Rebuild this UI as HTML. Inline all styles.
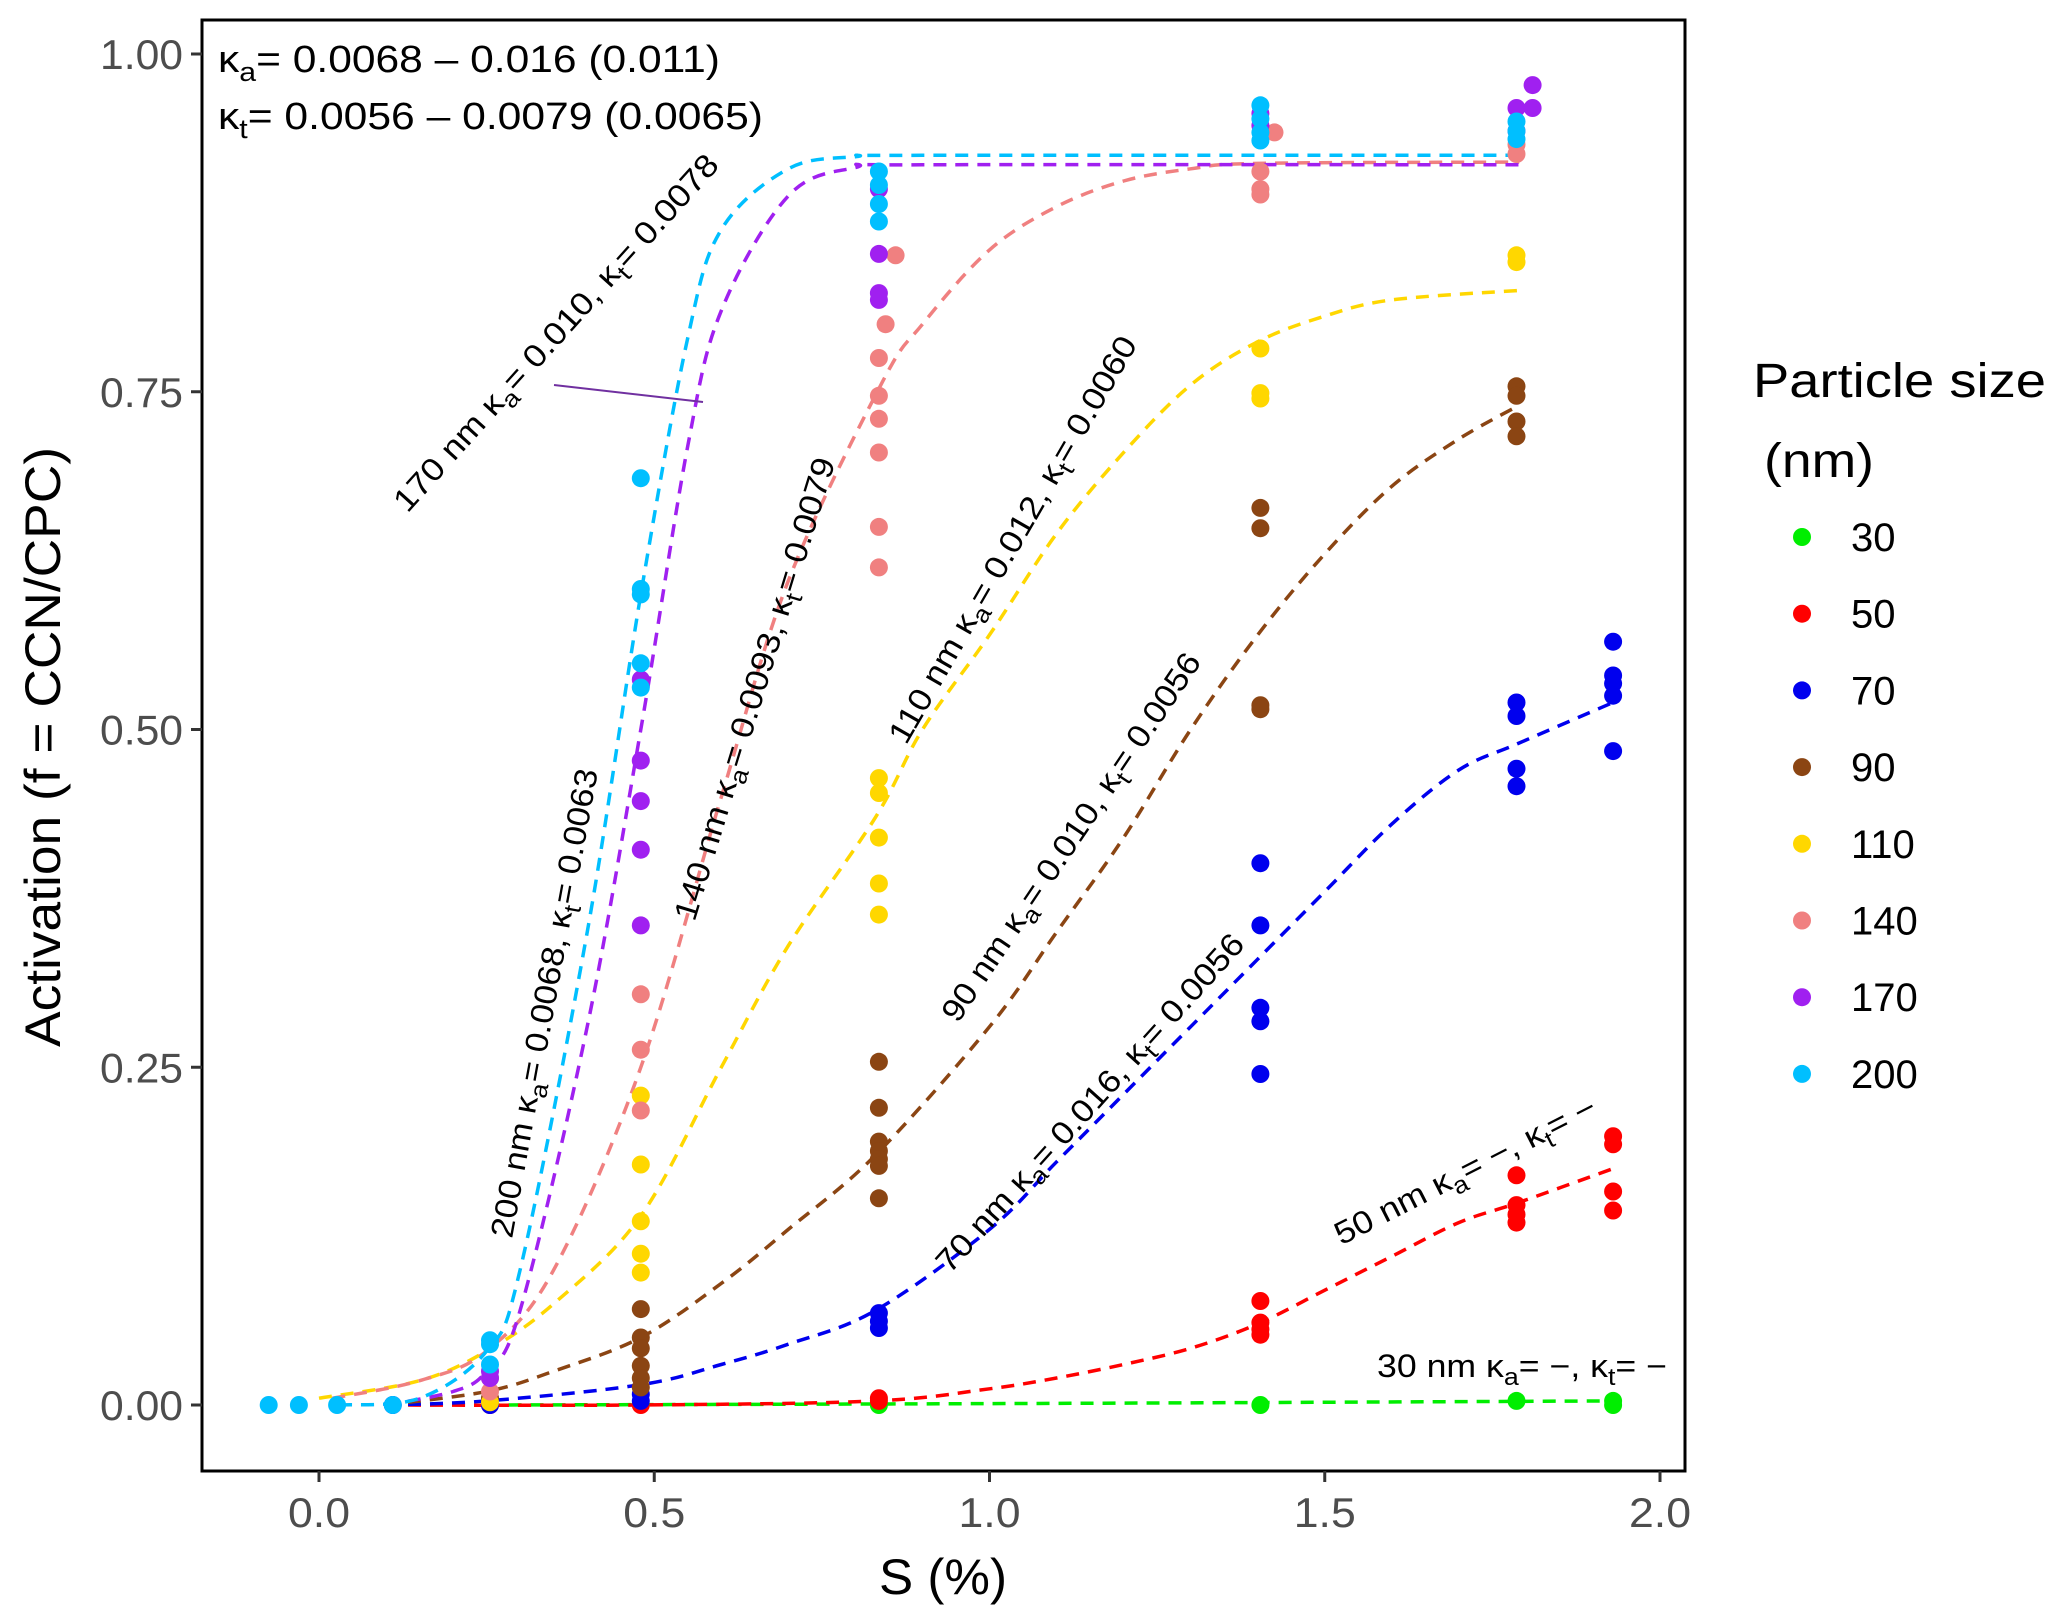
<!DOCTYPE html>
<html><head><meta charset="utf-8"><style>
html,body{margin:0;padding:0;background:#fff}
svg{display:block;font-family:"Liberation Sans",sans-serif}
</style></head><body>
<svg id="chart" width="2067" height="1624" viewBox="0 0 2067 1624" xmlns="http://www.w3.org/2000/svg">
<rect x="0" y="0" width="2067" height="1624" fill="#fff"/>
<g id="curves"></g>
<g id="points"></g>
<rect x="202" y="20" width="1483" height="1451" fill="none" stroke="#000" stroke-width="3"/>
<g id="axes"></g>
<g id="annot" font-size="32" fill="#000"></g>
<g id="legend"></g>
</svg>
<script>
const sizes = [30, 50, 70, 90, 110, 140, 170, 200];
const colors = ["#00ee00", "#ff0000", "#0000ee", "#8b4513", "#ffd700", "#f08080", "#a020f0", "#00bfff"];
const xTicks = [0.0, 0.5, 1.0, 1.5, 2.0];
const xTickLabels = ["0.0", "0.5", "1.0", "1.5", "2.0"];
const yTicks = [0, 0.25, 0.5, 0.75, 1.0];
const yTickLabels = ["0.00", "0.25", "0.50", "0.75", "1.00"];

// measured points [S, activation] per size
const pts30 = [[0.835,0],[1.404,0],[1.786,0.003],[1.93,0.003],[1.93,0.0]];
const pts50 = [[0.255,0],[0.48,0],[0.835,0.005],[0.835,0.003],[1.404,0.077],[1.404,0.061],[1.404,0.056],[1.404,0.052],[1.786,0.17],[1.786,0.148],[1.786,0.141],[1.786,0.135],[1.93,0.199],[1.93,0.193],[1.93,0.158],[1.93,0.144]];
const pts70 = [[0.11,0],[0.255,0],[0.48,0.008],[0.48,0.003],[0.835,0.068],[0.835,0.062],[0.835,0.057],[1.404,0.401],[1.404,0.355],[1.404,0.294],[1.404,0.284],[1.404,0.245],[1.786,0.52],[1.786,0.51],[1.786,0.471],[1.786,0.458],[1.93,0.565],[1.93,0.54],[1.93,0.534],[1.93,0.525],[1.93,0.484]];
const pts90 = [[0.255,0.005],[0.48,0.071],[0.48,0.05],[0.48,0.042],[0.48,0.029],[0.48,0.02],[0.48,0.013],[0.835,0.254],[0.835,0.22],[0.835,0.195],[0.835,0.188],[0.835,0.182],[0.835,0.177],[0.835,0.153],[1.404,0.664],[1.404,0.649],[1.404,0.518],[1.404,0.515],[1.786,0.754],[1.786,0.747],[1.786,0.728],[1.786,0.717]];
const pts110 = [[0.255,0.002],[0.48,0.229],[0.48,0.178],[0.48,0.136],[0.48,0.112],[0.48,0.098],[0.835,0.464],[0.835,0.453],[0.835,0.42],[0.835,0.386],[0.835,0.363],[1.404,0.782],[1.404,0.749],[1.404,0.745],[1.786,0.851],[1.786,0.846]];
const pts140 = [[0.255,0.01],[0.255,0.02],[0.48,0.304],[0.48,0.263],[0.48,0.218],[0.835,0.775],[0.835,0.747],[0.835,0.73],[0.835,0.705],[0.835,0.65],[0.835,0.62],[0.845,0.8],[0.86,0.851],[1.425,0.942],[1.404,0.913],[1.404,0.9],[1.404,0.896],[1.786,0.926],[1.786,0.933]];
const pts170 = [[0.255,0.02],[0.255,0.025],[0.48,0.537],[0.48,0.477],[0.48,0.447],[0.48,0.411],[0.48,0.355],[0.835,0.9],[0.835,0.852],[0.835,0.823],[0.835,0.818],[1.404,0.956],[1.404,0.947],[1.81,0.977],[1.81,0.96],[1.786,0.96],[1.786,0.943]];
const pts200 = [[-0.075,0],[-0.03,0],[0.027,0],[0.11,0],[0.255,0.048],[0.255,0.045],[0.255,0.03],[0.48,0.686],[0.48,0.604],[0.48,0.6],[0.48,0.549],[0.48,0.531],[0.835,0.913],[0.835,0.903],[0.835,0.889],[0.835,0.876],[1.404,0.962],[1.404,0.952],[1.404,0.942],[1.404,0.936],[1.786,0.95],[1.786,0.943],[1.786,0.937]];
const allPts = [pts30, pts50, pts70, pts90, pts110, pts140, pts170, pts200];

// fitted curves [S, activation]
const fit30 = [[0.25,0],[1.0,0.001],[1.93,0.003]];
const fit50 = [[0.1,0],[0.48,0],[0.83,0.003],[1.0,0.012],[1.1,0.02],[1.2,0.03],[1.3,0.042],[1.4,0.06],[1.5,0.085],[1.6,0.11],[1.7,0.135],[1.79,0.15],[1.93,0.175]];
const fit70 = [[0.1,0],[0.25,0.003],[0.48,0.015],[0.6,0.03],[0.7,0.045],[0.83,0.07],[1.0,0.13],[1.1,0.18],[1.2,0.23],[1.3,0.28],[1.4,0.33],[1.5,0.38],[1.6,0.43],[1.7,0.47],[1.79,0.49],[1.93,0.52]];
const fit90 = [[0.1,0],[0.25,0.01],[0.35,0.025],[0.48,0.05],[0.6,0.09],[0.7,0.13],[0.83,0.185],[1.0,0.28],[1.1,0.35],[1.2,0.42],[1.3,0.5],[1.4,0.57],[1.5,0.63],[1.6,0.68],[1.7,0.715],[1.79,0.74]];
const fit110 = [[0.0,0.005],[0.15,0.018],[0.25,0.04],[0.35,0.075],[0.48,0.14],[0.6,0.25],[0.7,0.34],[0.83,0.435],[0.9,0.5],[1.0,0.57],[1.1,0.645],[1.2,0.705],[1.3,0.755],[1.4,0.787],[1.5,0.806],[1.6,0.818],[1.79,0.825]];
const fit140 = [[0.02,0.005],[0.15,0.018],[0.25,0.04],[0.35,0.1],[0.48,0.25],[0.6,0.45],[0.7,0.61],[0.84,0.757],[0.9,0.8],[1.0,0.855],[1.1,0.887],[1.2,0.906],[1.3,0.915],[1.4,0.919],[1.79,0.92]];
const fit170 = [[0.1,0],[0.2,0.01],[0.25,0.025],[0.3,0.07],[0.4,0.28],[0.48,0.5],[0.55,0.71],[0.6,0.81],[0.7,0.895],[0.8,0.916],[0.9,0.918],[1.79,0.918]];
const fit200 = [[0.03,0],[0.15,0.005],[0.25,0.04],[0.3,0.1],[0.4,0.35],[0.48,0.6],[0.55,0.79],[0.6,0.87],[0.7,0.915],[0.8,0.924],[0.9,0.925],[1.79,0.925]];
const allFits = [fit30, fit50, fit70, fit90, fit110, fit140, fit170, fit200];

const NS = "http://www.w3.org/2000/svg";
const X0 = 319, XS = 670.5, Y0 = 1405, YS = 1351;
function xs(v){ return X0 + v*XS; }
function ys(v){ return Y0 - v*YS; }
function mk(tag, attrs, parent){ const e=document.createElementNS(NS,tag); for(const k in attrs) e.setAttribute(k,attrs[k]); parent.appendChild(e); return e; }
function smoothPath(f){
  const P = f.map(p=>[xs(p[0]), ys(p[1])]);
  let d = "M"+P[0][0].toFixed(1)+","+P[0][1].toFixed(1);
  for(let i=0;i<P.length-1;i++){
    const p0=P[Math.max(0,i-1)], p1=P[i], p2=P[i+1], p3=P[Math.min(P.length-1,i+2)];
    const c1=[p1[0]+(p2[0]-p0[0])/6, p1[1]+(p2[1]-p0[1])/6];
    const c2=[p2[0]-(p3[0]-p1[0])/6, p2[1]-(p3[1]-p1[1])/6];
    d += " C"+c1[0].toFixed(1)+","+c1[1].toFixed(1)+" "+c2[0].toFixed(1)+","+c2[1].toFixed(1)+" "+p2[0].toFixed(1)+","+p2[1].toFixed(1);
  }
  return d;
}

const gc = document.getElementById("curves");
allFits.forEach((f,i)=>{
  const el = mk("path",{d:smoothPath(f),fill:"none",stroke:colors[i],"stroke-width":3.5,"stroke-dasharray":"13 9","stroke-linejoin":"round"},gc);
  
  
});
const gp = document.getElementById("points");
allPts.forEach((arr,i)=>{
  arr.forEach(p=>{
    const c = mk("circle",{cx:xs(p[0]).toFixed(1),cy:ys(p[1]).toFixed(1),r:9,fill:colors[i]},gp);
    
    
  });
});

const ga = document.getElementById("axes");
xTicks.forEach((t,i)=>{
  const l = mk("line",{x1:xs(t),x2:xs(t),y1:1471,y2:1482,stroke:"#333","stroke-width":3},ga);
  
  
  const tx = mk("text",{x:xs(t),y:1527,"text-anchor":"middle","font-size":42,fill:"#4d4d4d",textLength:62,lengthAdjust:"spacingAndGlyphs"},ga);
  tx.textContent = xTickLabels[i];
  
  
});
yTicks.forEach((t,i)=>{
  const l = mk("line",{x1:191,x2:202,y1:ys(t),y2:ys(t),stroke:"#333","stroke-width":3},ga);
  
  
  const tx = mk("text",{x:183,y:ys(t)+15,"text-anchor":"end","font-size":42,fill:"#4d4d4d",textLength:83,lengthAdjust:"spacingAndGlyphs"},ga);
  tx.textContent = yTickLabels[i];
  
  
});
const xt = mk("text",{x:943,y:1594,"text-anchor":"middle","font-size":50,fill:"#000",textLength:128,lengthAdjust:"spacingAndGlyphs"},ga);
xt.textContent = "S (%)";


const yt = mk("text",{x:0,y:0,"text-anchor":"middle","font-size":50,fill:"#000",transform:"translate(60,747) rotate(-90)",textLength:600,lengthAdjust:"spacingAndGlyphs"},ga);
yt.textContent = "Activation (f = CCN/CPC)";



// annotations
const gn = document.getElementById("annot");
function kText(parent, x, y, prefix, ka, kt, len, rot, name){
  const t = mk("text",{x:0,y:0,"text-anchor":"middle",transform:"translate("+x+","+y+") rotate("+rot+")",textLength:len,lengthAdjust:"spacingAndGlyphs"},parent);
  
  
  t.innerHTML = prefix+' κ<tspan dy="8" font-size="24">a</tspan><tspan dy="-8">= '+ka+', κ</tspan><tspan dy="8" font-size="24">t</tspan><tspan dy="-8">= '+kt+'</tspan>';
  return t;
}
kText(gn,564,340,"170 nm","0.010","0.0078",468,-48,"label-170nm");
kText(gn,555,1005,"200 nm","0.0068","0.0063",476,-79.6,"label-200nm");
kText(gn,765,692,"140 nm","0.0093","0.0079",482,-73,"label-140nm");
kText(gn,1022,545,"110 nm","0.012","0.0060",464,-60,"label-110nm");
kText(gn,1080,843,"90 nm","0.010","0.0056",437,-56,"label-90nm");
kText(gn,1098,1110,"70 nm","0.016","0.0056",443,-48,"label-70nm");
kText(gn,1470,1180,"50 nm","−","−",289,-27,"label-50nm");
kText(gn,1522,1377,"30 nm","−","−",290,0,"label-30nm");
const ln = mk("line",{x1:554,y1:385,x2:703,y2:402,stroke:"#7030a0","stroke-width":2},gn);


const s1 = mk("text",{x:218,y:72,"font-size":38,textLength:502,lengthAdjust:"spacingAndGlyphs"},gn);


s1.innerHTML = 'κ<tspan dy="9" font-size="27">a</tspan><tspan dy="-9">= 0.0068 – 0.016 (0.011)</tspan>';
const s2 = mk("text",{x:218,y:129,"font-size":38,textLength:545,lengthAdjust:"spacingAndGlyphs"},gn);


s2.innerHTML = 'κ<tspan dy="9" font-size="27">t</tspan><tspan dy="-9">= 0.0056 – 0.0079 (0.0065)</tspan>';

// legend
const gl = document.getElementById("legend");
const lt1 = mk("text",{x:1753,y:397,"font-size":48,fill:"#000",textLength:293,lengthAdjust:"spacingAndGlyphs"},gl);
lt1.textContent = "Particle size";


const lt2 = mk("text",{x:1764,y:477,"font-size":48,fill:"#000",textLength:110,lengthAdjust:"spacingAndGlyphs"},gl);
lt2.textContent = "(nm)";


sizes.forEach((s,i)=>{
  const y = 537 + i*76.7;
  const c = mk("circle",{cx:1802,cy:y,r:9,fill:colors[i]},gl);
  
  
  const t = mk("text",{x:1851,y:y+14,"font-size":40,fill:"#000"},gl);
  t.textContent = String(s);
  
  
});
</script>
</body></html>
